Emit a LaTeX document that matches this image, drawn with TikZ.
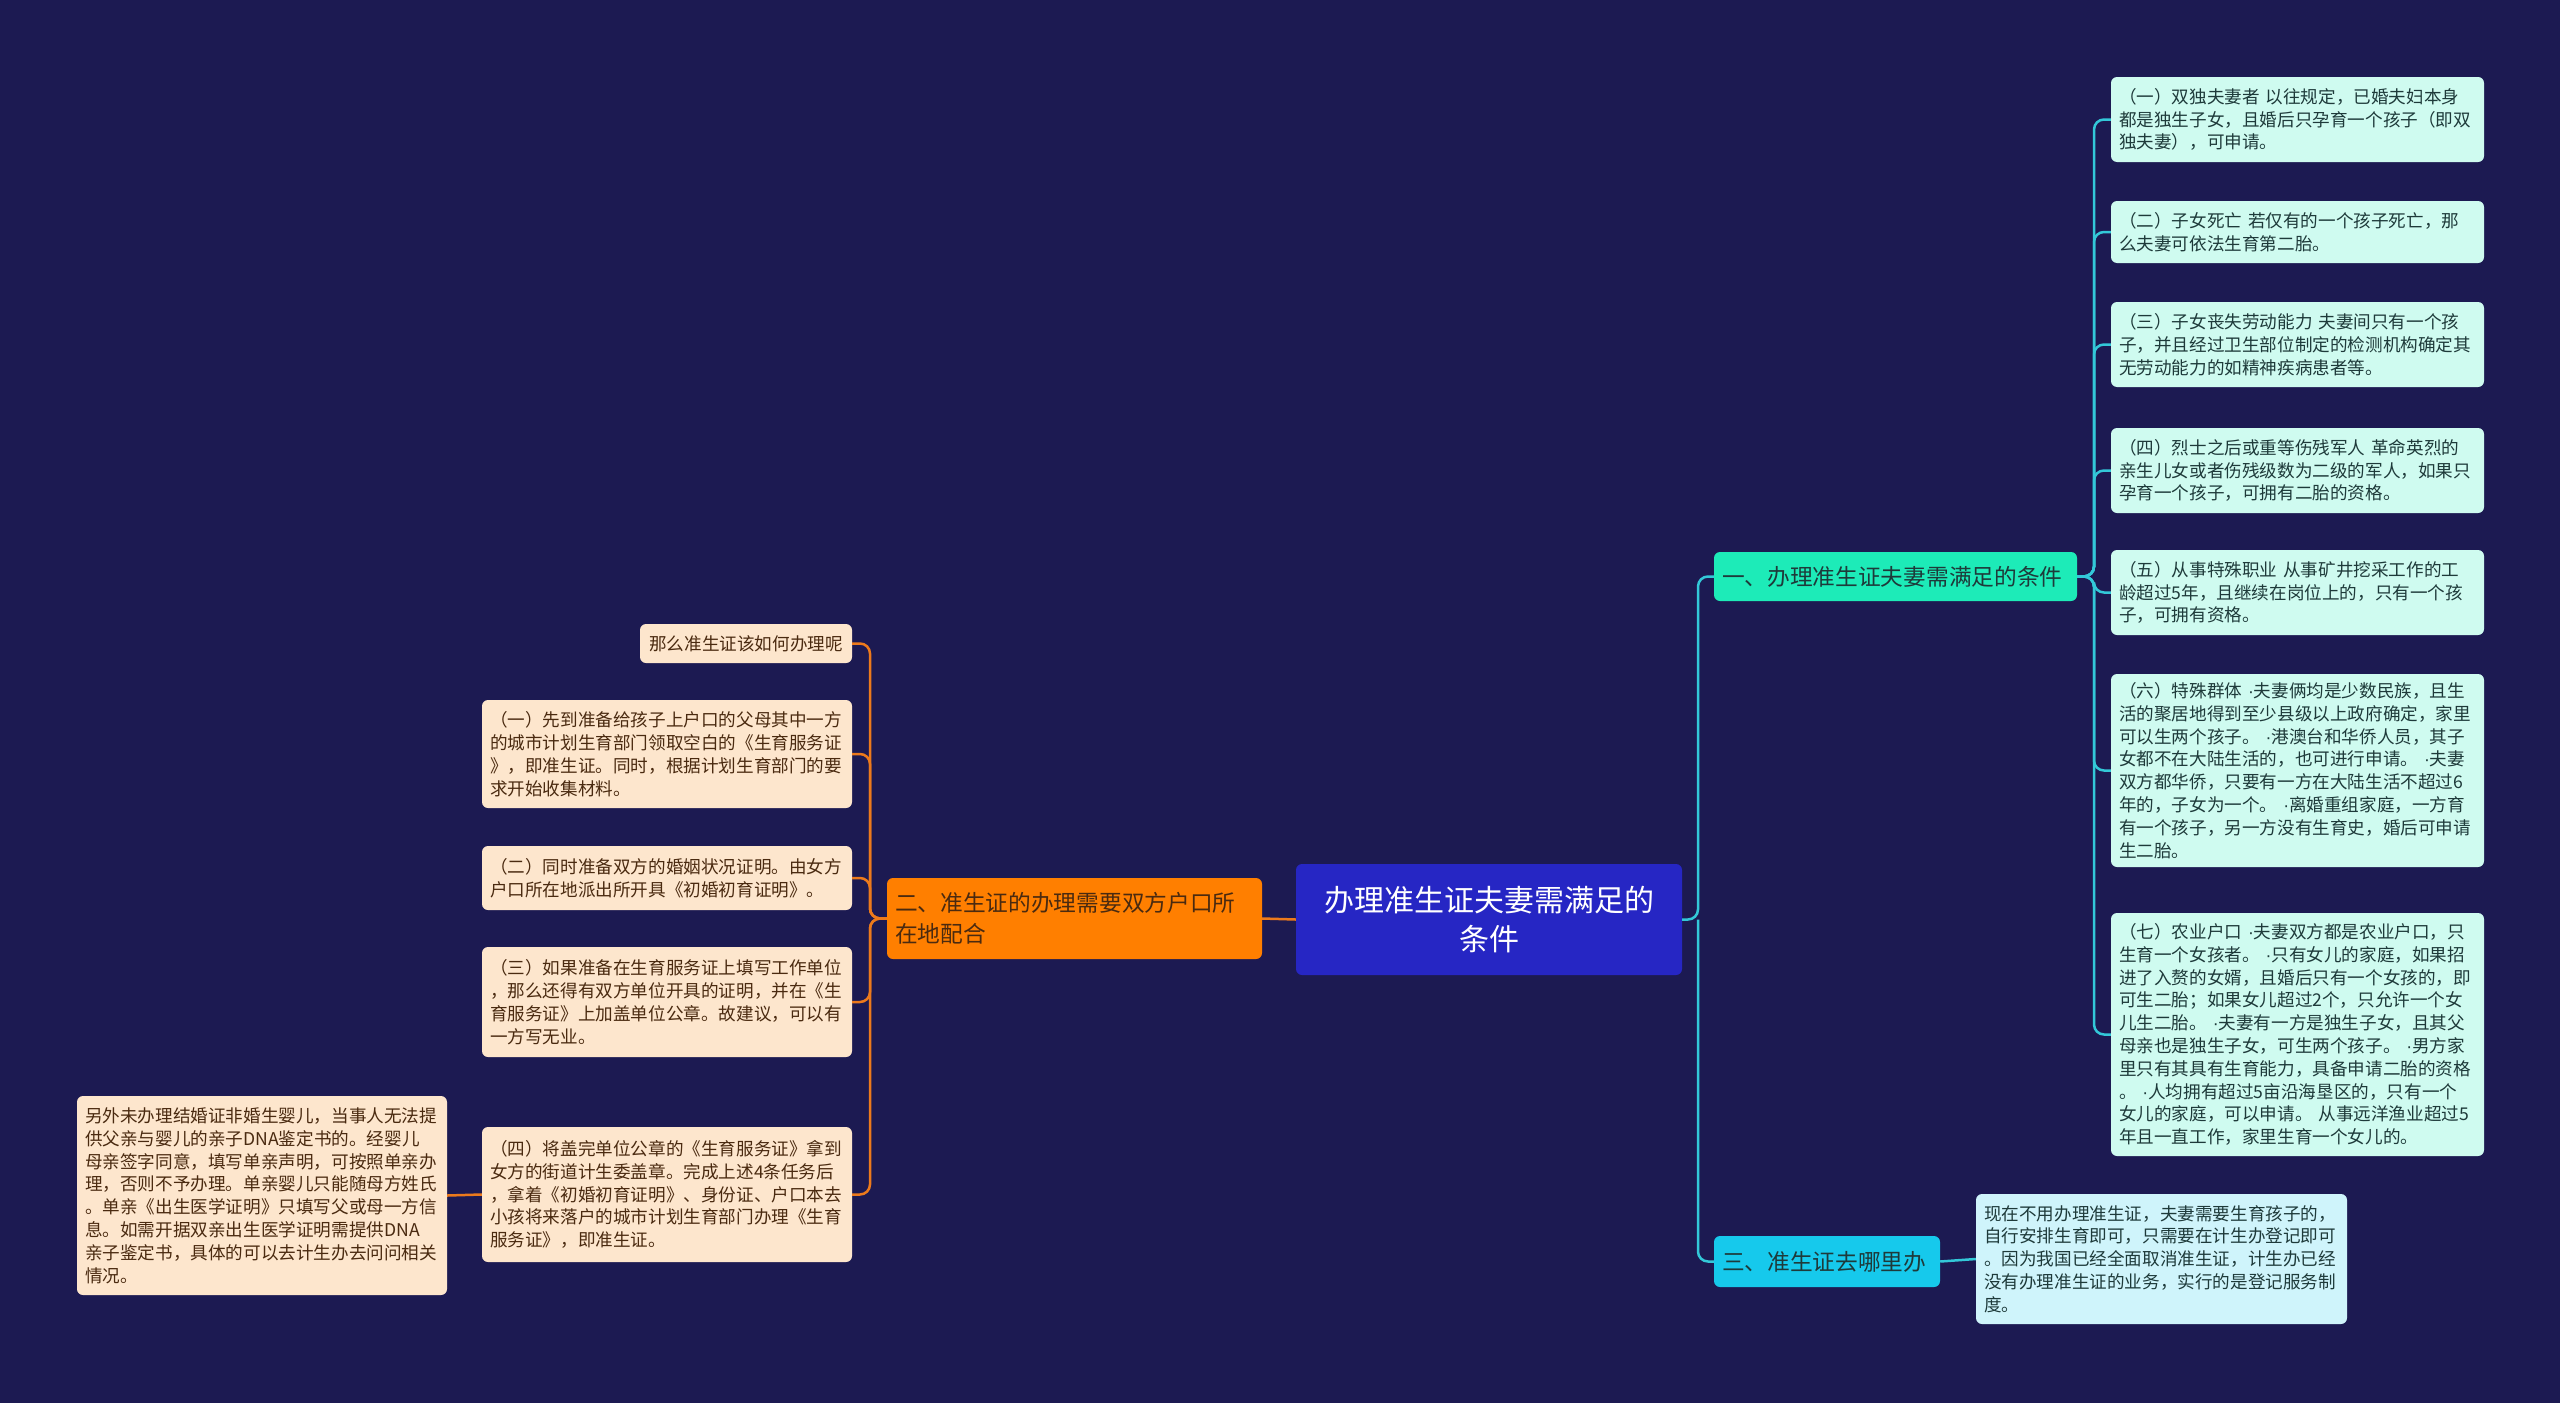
\documentclass[tikz,border=0pt]{standalone}
\usepackage{fontspec}
\setmainfont{Noto Sans CJK SC}
\newfontfamily\latinfont{Liberation Sans}
\newcommand\mdot{{\latinfont ·}}
\usepackage{xcolor}
\usepackage{tikz}
\usetikzlibrary{positioning}

\definecolor{bgnavy}{HTML}{1C1A52}
\definecolor{rootblue}{HTML}{2626C4}
\definecolor{tealbranch}{HTML}{1DEBB8}
\definecolor{cyanbranch}{HTML}{16C9EC}
\definecolor{orangebranch}{HTML}{FF7F00}
\definecolor{mintleaf}{HTML}{CFFBF0}
\definecolor{iceleaf}{HTML}{CFF4FB}
\definecolor{peachleaf}{HTML}{FDE6CD}
\definecolor{cyanline}{HTML}{33C8D8}
\definecolor{orangeline}{HTML}{EC7A1C}
\definecolor{darktext}{HTML}{1E3A3A}
\definecolor{browntext}{HTML}{4A2A10}

\begin{document}
\begin{tikzpicture}[
  x=1pt, y=-1pt,
  every node/.style={rounded corners=6pt, inner xsep=8pt, inner ysep=4pt},
  root/.style={fill=rootblue, text=white, align=center, text width=370pt,
    minimum height=111pt, font=\fontsize{30}{39}\selectfont},
  branch/.style={text=darktext, align=left, font=\fontsize{22.7}{31}\selectfont},
  rleaf/.style={fill=mintleaf, text=darktext, align=left, text width=357pt,
    font=\fontsize{17.6}{22.8}\selectfont},
  lleaf/.style={fill=peachleaf, text=browntext, align=left, text width=354pt,
    font=\fontsize{17.6}{22.8}\selectfont},
  cyanlink/.style={draw=cyanline, line width=2.5pt, rounded corners=10pt},
  orangelink/.style={draw=orangeline, line width=2.5pt, rounded corners=10pt}
]

% Background
\fill[bgnavy] (0,0) rectangle (2560,1403);

% Root
\node[root] (c) at (1489,919.5) {办理准生证夫妻需满足的\\条件};

% Branches
\node[branch, fill=tealbranch, text width=347pt, minimum height=49pt] (b1) at (1895.5,576.5) {一、办理准生证夫妻需满足的条件};
\node[branch, fill=orangebranch, text=browntext, text width=359pt, minimum height=81pt] (b2) at (1074.5,918.5) {二、准生证的办理需要双方户口所\\在地配合};
\node[branch, fill=cyanbranch, text width=210pt, minimum height=51pt] (b3) at (1827,1261.5) {三、准生证去哪里办};

% Leaves of branch 1
\node[rleaf, minimum height=85pt] (r1) at (2297.5,119.5) {（一）双独夫妻者~以往规定，已婚夫妇本身\\都是独生子女，且婚后只孕育一个孩子（即双\\独夫妻），可申请。};
\node[rleaf, minimum height=62pt] (r2) at (2297.5,232) {（二）子女死亡~若仅有的一个孩子死亡，那\\么夫妻可依法生育第二胎。};
\node[rleaf, minimum height=85pt] (r3) at (2297.5,344.5) {（三）子女丧失劳动能力~夫妻间只有一个孩\\子，并且经过卫生部位制定的检测机构确定其\\无劳动能力的如精神疾病患者等。};
\node[rleaf, minimum height=85pt] (r4) at (2297.5,470.5) {（四）烈士之后或重等伤残军人~革命英烈的\\亲生儿女或者伤残级数为二级的军人，如果只\\孕育一个孩子，可拥有二胎的资格。};
\node[rleaf, minimum height=85pt] (r5) at (2297.5,592.5) {（五）从事特殊职业~从事矿井挖采工作的工\\龄超过5年，且继续在岗位上的，只有一个孩\\子，可拥有资格。};
\node[rleaf, minimum height=193pt] (r6) at (2297.5,770.5) {（六）特殊群体~\mdot 夫妻俩均是少数民族，且生\\活的聚居地得到至少县级以上政府确定，家里\\可以生两个孩子。~\mdot 港澳台和华侨人员，其子\\女都不在大陆生活的，也可进行申请。~\mdot 夫妻\\双方都华侨，只要有一方在大陆生活不超过6\\年的，子女为一个。~\mdot 离婚重组家庭，一方育\\有一个孩子，另一方没有生育史，婚后可申请\\生二胎。};
\node[rleaf, minimum height=243pt] (r7) at (2297.5,1034.5) {（七）农业户口~\mdot 夫妻双方都是农业户口，只\\生育一个女孩者。~\mdot 只有女儿的家庭，如果招\\进了入赘的女婿，且婚后只有一个女孩的，即\\可生二胎；如果女儿超过2个，只允许一个女\\儿生二胎。~\mdot 夫妻有一方是独生子女，且其父\\母亲也是独生子女，可生两个孩子。~\mdot 男方家\\里只有其具有生育能力，具备申请二胎的资格\\。~\mdot 人均拥有超过5亩沿海垦区的，只有一个\\女儿的家庭，可以申请。~从事远洋渔业超过5\\年且一直工作，家里生育一个女儿的。};

% Leaves of branch 2
\node[lleaf, text width=196pt, align=center, minimum height=39pt] (l0) at (746,643.5) {那么准生证该如何办理呢};
\node[lleaf, minimum height=108pt] (l1) at (667,754) {（一）先到准备给孩子上户口的父母其中一方\\的城市计划生育部门领取空白的《生育服务证\\》，即准生证。同时，根据计划生育部门的要\\求开始收集材料。};
\node[lleaf, minimum height=64pt] (l2) at (667,878) {（二）同时准备双方的婚姻状况证明。由女方\\户口所在地派出所开具《初婚初育证明》。};
\node[lleaf, minimum height=110pt] (l3) at (667,1002) {（三）如果准备在生育服务证上填写工作单位\\，那么还得有双方单位开具的证明，并在《生\\育服务证》上加盖单位公章。故建议，可以有\\一方写无业。};
\node[lleaf, minimum height=135pt] (l4) at (667,1194.5) {（四）将盖完单位公章的《生育服务证》拿到\\女方的街道计生委盖章。完成上述4条任务后\\，拿着《初婚初育证明》、身份证、户口本去\\小孩将来落户的城市计划生育部门办理《生育\\服务证》，即准生证。};
\node[lleaf, minimum height=199pt] (far) at (262,1195.5) {另外未办理结婚证非婚生婴儿，当事人无法提\\供父亲与婴儿的亲子DNA鉴定书的。经婴儿\\母亲签字同意，填写单亲声明，可按照单亲办\\理，否则不予办理。单亲婴儿只能随母方姓氏\\。单亲《出生医学证明》只填写父或母一方信\\息。如需开据双亲出生医学证明需提供DNA\\亲子鉴定书，具体的可以去计生办去问问相关\\情况。};

% Leaf of branch 3
\node[rleaf, fill=iceleaf, text width=355pt, minimum height=130pt] (q1) at (2161.5,1259) {现在不用办理准生证，夫妻需要生育孩子的，\\自行安排生育即可，只需要在计生办登记即可\\。因为我国已经全面取消准生证，计生办已经\\没有办理准生证的业务，实行的是登记服务制\\度。};

% Connectors
\coordinate (rbus) at (1698,919.5);
\coordinate (b1bus) at (2094,576.5);
\coordinate (b2bus) at (870,918.5);

\draw[cyanlink] (c.east) -- (rbus) |- (b1.west);
\draw[cyanlink] (rbus) |- (b3.west);
\foreach \n in {r1,r2,r3,r4,r5,r6,r7}
  \draw[cyanlink] (b1.east) -- (b1bus) |- (\n.west);
\draw[cyanlink] (b3.east) -- (q1.west);

\draw[orangelink] (c.west) -- (b2.east);
\foreach \n in {l0,l1,l2,l3,l4}
  \draw[orangelink] (b2.west) -- (b2bus) |- (\n.east);
\draw[orangelink] (l4.west) -- (far.east);

\end{tikzpicture}
\end{document}
